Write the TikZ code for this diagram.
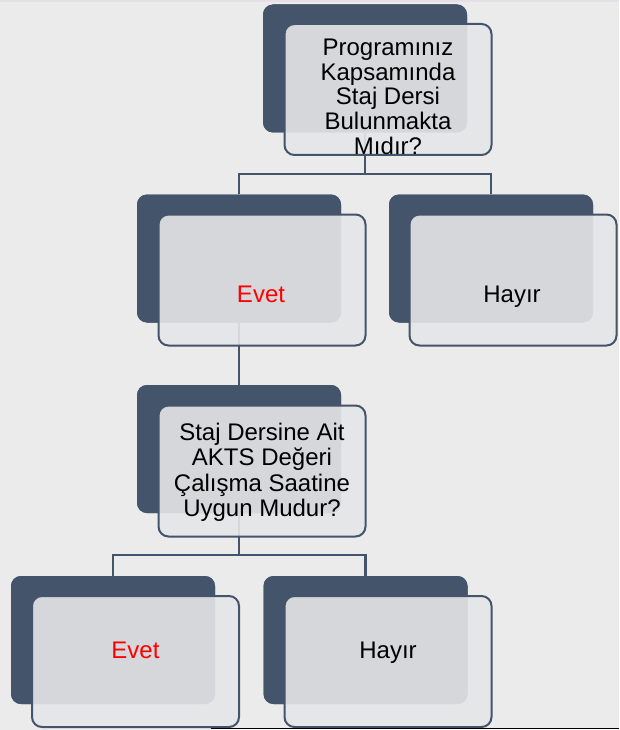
\documentclass[tikz,border=0pt]{standalone}
\usepackage{fontspec}
\setmainfont{Liberation Sans}
\definecolor{bgc}{HTML}{EBEBEB}
\definecolor{slate}{HTML}{44546A}
\definecolor{paper}{RGB}{229,230,232}
\definecolor{pinkrule}{HTML}{E8DEE8}
\begin{document}
\begin{tikzpicture}[x=1pt,y=-1pt,
  darkbox/.style={fill=slate, draw=none, rounded corners=10pt, minimum width=204pt, minimum height=128pt, inner sep=0pt},
  lightbox/.style={fill=paper, fill opacity=0.9, draw=slate, line width=2pt, rounded corners=10pt, minimum width=207pt, minimum height=131pt, inner sep=0pt},
  link/.style={draw=slate, line width=2.2pt},
  qtext/.style={font=\fontsize{24}{24.8}\selectfont, align=center, inner sep=0pt, anchor=north},
  atext/.style={font=\fontsize{24}{24.8}\selectfont, inner sep=0pt, anchor=base}]
\useasboundingbox (0,0) rectangle (619,730);
\fill[bgc] (0,0) rectangle (619,730);
\draw[pinkrule, line width=1.5pt] (0,1) -- (619,1);
% dark back boxes
\node[darkbox] (d1) at (365,68.5) {};
\node[darkbox] (d2) at (239,258.5) {};
\node[darkbox] (d3) at (491,258.5) {};
\node[darkbox] (d4) at (239,449) {};
\node[darkbox] (d5) at (113,640) {};
\node[darkbox] (d6) at (365.5,640) {};
% connectors
\path[link] (d1.south) -- ++(0,41) -| (d2.north);
\path[link] (d1.south) ++(0,41) -| (d3.north);
\path[link] (d2.south) -- (d4.north);
\path[link] (d4.south) -- ++(0,42) -| (d5.north);
\path[link] (d4.south) ++(0,42) -| (d6.north);
% redraw dark boxes over connector ends
\node[darkbox] at (d1.center) {};
\node[darkbox] at (d2.center) {};
\node[darkbox] at (d3.center) {};
\node[darkbox] at (d4.center) {};
\node[darkbox] at (d5.center) {};
\node[darkbox] at (d6.center) {};
% light front boxes
\node[lightbox] (l1) at (388,89.5) {};
\node[lightbox] (l2) at (262,280) {};
\node[lightbox] (l3) at (513,280) {};
\node[lightbox] (l4) at (262,471) {};
\node[lightbox] (l5) at (135.5,661.5) {};
\node[lightbox] (l6) at (388,661.5) {};
% texts
\node[qtext] (t1) at (388,38.5) {Programınız\\Kapsamında\\Staj Dersi\\Bulunmakta\\Mıdır?};
\node[atext, text=red] (t2) at (261,302) {Evet};
\node[atext] (t3) at (512,302) {Hayır};
\node[qtext, font=\fontsize{24}{25.3}\selectfont] (t4) at (262,423) {Staj Dersine Ait\\AKTS Değeri\\Çalışma Saatine\\Uygun Mudur?};
\node[atext, text=red] (t5) at (135.5,658) {Evet};
\node[atext] (t6) at (388,658) {Hayır};
% bottom strip
\fill[white] (211,728) rectangle (619,730);
\draw[black, line width=1pt] (211,728) -- (619,728);
\end{tikzpicture}
\end{document}
